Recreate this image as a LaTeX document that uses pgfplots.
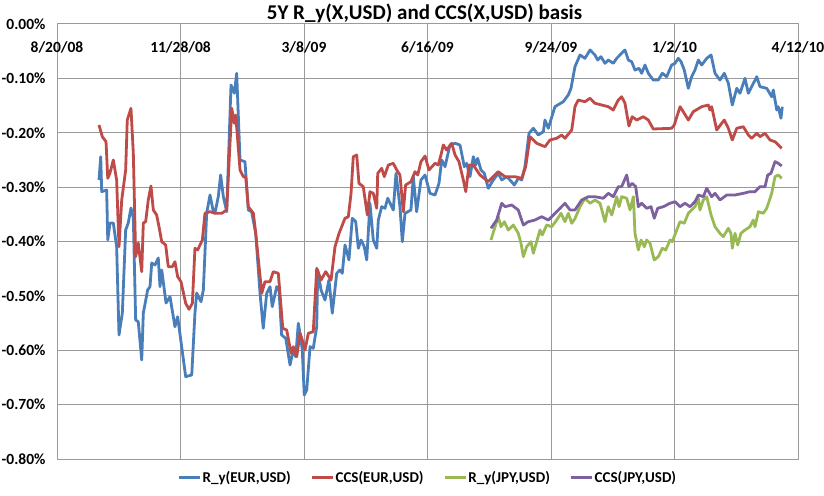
\documentclass[border=0pt]{standalone}
\usepackage{pgfplots}
\pgfplotsset{compat=1.18}
\usepackage{fontspec}
\setmainfont{Carlito}
\definecolor{cblue}{HTML}{4A7EBB}
\definecolor{cred}{HTML}{BE4B48}
\definecolor{cgreen}{HTML}{98B954}
\definecolor{cpurple}{HTML}{7D60A0}
\definecolor{cgrid}{HTML}{9A9A9A}
\begin{document}
\begin{tikzpicture}[x=1pt,y=1pt]
\useasboundingbox (-57,-36) rectangle (767,459);
\begin{axis}[
  at={(0,0)}, anchor=south west,
  scale only axis, width=741pt, height=435pt,
  xmin=0, xmax=600, ymin=-0.8, ymax=0,
  xtick={0,100,...,600},
  xticklabels={8/20/08,11/28/08,3/8/09,6/16/09,9/24/09,1/2/10,4/12/10},
  xticklabel pos=upper,
  xticklabel style={anchor=center, yshift=-23pt, font=\fontsize{15.5}{17}\selectfont\bfseries},
  ytick={-0.8,-0.7,-0.6,-0.5,-0.4,-0.3,-0.2,-0.1,0},
  yticklabels={-0.80\%,-0.70\%,-0.60\%,-0.50\%,-0.40\%,-0.30\%,-0.20\%,-0.10\%,0.00\%},
  yticklabel style={font=\fontsize{15.5}{17}\selectfont\bfseries, xshift=-8pt},
  major tick length=0pt,
  grid=major,
  grid style={cgrid, line width=1pt},
  axis line style={cgrid, line width=1pt},
  title={5Y R\_y(X,USD) and CCS(X,USD) basis},
  title style={font=\fontsize{21}{23}\selectfont\bfseries, at={(0.5,1)}, anchor=center, yshift=5pt, xshift=-3pt},
  legend columns=4,
  legend style={draw=none, fill=none, at={(0.5,-0.042)}, anchor=center,
    font=\fontsize{15}{17}\selectfont\bfseries,
    nodes={inner sep=1.5pt},
    /tikz/every even column/.append style={column sep=18pt}},
  legend image code/.code={\draw[#1, line width=2.8pt] (0pt,0pt) -- (21pt,0pt);},
  every axis plot/.append style={line width=2.8pt, line join=round},
]
\addplot[cblue] coordinates {
(34.0,-0.2869)(35.4,-0.2440)(36.2,-0.3084)(40.2,-0.3053)(41.1,-0.3972)(42.9,-0.3660)(45.6,-0.3660)(48.3,-0.4096)(50.2,-0.5720)(52.9,-0.5315)(55.6,-0.3789)(57.7,-0.3660)(59.9,-0.3384)(61.8,-0.3568)(63.7,-0.5444)(65.8,-0.5475)(68.6,-0.6179)(69.9,-0.5315)(73.4,-0.4892)(75.3,-0.4831)(76.7,-0.4395)(79.4,-0.4432)(82.0,-0.4303)(83.4,-0.4831)(84.8,-0.4524)(88.3,-0.5131)(91.5,-0.5015)(95.5,-0.5567)(97.7,-0.5383)(104.2,-0.6486)(109.1,-0.6455)(111.7,-0.5315)(113.1,-0.4947)(116.6,-0.5107)(118.5,-0.4892)(121.2,-0.3476)(123.9,-0.3145)(126.6,-0.3452)(127.9,-0.3476)(130.6,-0.3176)(132.5,-0.2777)(134.7,-0.3176)(137.4,-0.3452)(140.9,-0.1122)(143.6,-0.1274)(145.5,-0.0907)(148.2,-0.2501)(152.2,-0.2532)(154.9,-0.3421)(157.6,-0.3452)(160.9,-0.3849)(164.4,-0.4953)(167.0,-0.5596)(169.8,-0.4953)(172.5,-0.4831)(174.3,-0.5199)(177.9,-0.4831)(179.8,-0.4892)(181.9,-0.5720)(185.2,-0.5780)(188.7,-0.6271)(191.3,-0.5995)(193.3,-0.6119)(195.4,-0.5504)(197.6,-0.5811)(198.6,-0.5995)(200.2,-0.6823)(202.2,-0.6731)(204.9,-0.5935)(207.5,-0.5964)(210.3,-0.5567)(211.1,-0.4524)(213.8,-0.4892)(217.0,-0.5076)(220.2,-0.4708)(222.9,-0.5320)(226.5,-0.4585)(229.1,-0.4524)(231.0,-0.4585)(233.2,-0.4064)(236.4,-0.4340)(239.1,-0.3573)(241.9,-0.3636)(244.0,-0.4125)(246.2,-0.3972)(248.8,-0.4096)(250.8,-0.4340)(253.4,-0.3297)(256.1,-0.3972)(258.9,-0.4125)(260.2,-0.3605)(262.9,-0.3360)(265.6,-0.3389)(267.8,-0.3205)(272.3,-0.3421)(274.5,-0.2746)(277.7,-0.3360)(279.6,-0.4004)(281.8,-0.3481)(286.6,-0.3421)(288.5,-0.2808)(291.2,-0.3452)(294.7,-0.2869)(298.0,-0.2777)(302.0,-0.3114)(306.1,-0.3145)(309.3,-0.2930)(311.5,-0.2501)(314.2,-0.2624)(318.2,-0.2225)(322.3,-0.2194)(326.3,-0.2225)(329.8,-0.2624)(331.7,-0.2562)(334.4,-0.2808)(337.1,-0.2440)(339.0,-0.2593)(340.6,-0.2470)(343.3,-0.2685)(346.0,-0.2746)(349.2,-0.3022)(353.3,-0.2869)(357.3,-0.2746)(360.1,-0.2869)(364.1,-0.2808)(366.8,-0.2869)(370.3,-0.2961)(373.5,-0.2838)(376.3,-0.2869)(378.9,-0.2624)(382.2,-0.2010)(385.7,-0.1918)(389.7,-0.2041)(393.8,-0.1981)(395.1,-0.1766)(397.8,-0.1918)(403.2,-0.1521)(409.9,-0.1429)(414.0,-0.1306)(416.2,-0.1183)(419.4,-0.0785)(423.5,-0.0570)(427.5,-0.0631)(431.6,-0.0478)(435.6,-0.0570)(437.8,-0.0662)(440.5,-0.0601)(443.7,-0.0723)(446.4,-0.0662)(450.4,-0.0723)(453.2,-0.0631)(457.2,-0.0539)(459.9,-0.0478)(462.6,-0.0662)(465.3,-0.0693)(468.0,-0.0846)(471.3,-0.0815)(473.4,-0.0907)(476.1,-0.0754)(478.8,-0.0907)(482.8,-0.1030)(486.9,-0.1030)(490.1,-0.0907)(493.7,-0.0969)(497.7,-0.0754)(500.4,-0.0723)(503.1,-0.0631)(505.3,-0.0693)(507.9,-0.0846)(511.2,-0.1183)(513.9,-0.0969)(516.6,-0.0846)(519.3,-0.0662)(522.0,-0.0754)(526.1,-0.0631)(529.6,-0.0570)(532.8,-0.0907)(536.8,-0.1030)(540.3,-0.0907)(543.6,-0.1091)(546.8,-0.1490)(550.4,-0.1183)(553.0,-0.1274)(557.1,-0.0999)(559.8,-0.1274)(562.5,-0.1153)(566.6,-0.0969)(569.2,-0.1153)(574.7,-0.1183)(578.7,-0.1337)(580.0,-0.1214)(582.8,-0.1582)(584.0,-0.1521)(586.2,-0.1734)(587.3,-0.1521)
};
\addlegendentry{R\_y(EUR,USD)}
\addplot[cred] coordinates {
(34.0,-0.1857)(36.7,-0.2073)(39.7,-0.2165)(41.1,-0.2838)(42.9,-0.2740)(45.6,-0.2501)(48.3,-0.2869)(50.2,-0.4096)(52.4,-0.3237)(55.6,-0.2685)(56.9,-0.1766)(59.9,-0.1550)(61.8,-0.2378)(63.7,-0.4280)(65.8,-0.4028)(68.6,-0.4555)(69.9,-0.3660)(71.8,-0.3636)(73.9,-0.3237)(76.1,-0.2979)(78.0,-0.3421)(80.7,-0.3513)(82.6,-0.3728)(84.8,-0.4004)(88.0,-0.4064)(90.1,-0.4463)(93.4,-0.4463)(95.5,-0.4372)(97.7,-0.4647)(100.4,-0.4739)(104.2,-0.5137)(106.9,-0.5247)(109.6,-0.5137)(111.7,-0.4125)(113.9,-0.4156)(117.7,-0.3972)(119.8,-0.3481)(123.9,-0.3452)(127.9,-0.3481)(133.4,-0.3481)(137.4,-0.3421)(141.5,-0.1550)(143.6,-0.1826)(144.7,-0.1674)(146.3,-0.2133)(148.2,-0.2685)(150.9,-0.2808)(152.8,-0.2808)(154.9,-0.3360)(159.0,-0.3481)(160.9,-0.3849)(165.8,-0.4953)(168.4,-0.4739)(172.5,-0.4739)(175.1,-0.4555)(179.2,-0.4585)(182.8,-0.5596)(186.0,-0.5628)(189.5,-0.6056)(191.3,-0.5935)(194.1,-0.6119)(196.8,-0.5688)(198.6,-0.5811)(200.8,-0.5995)(203.5,-0.5688)(207.5,-0.5659)(210.3,-0.4493)(213.8,-0.4708)(217.6,-0.4555)(221.9,-0.4708)(225.1,-0.4096)(228.4,-0.3849)(233.2,-0.3573)(235.9,-0.3544)(238.1,-0.3114)(239.9,-0.2440)(242.7,-0.2409)(244.5,-0.2930)(248.0,-0.2992)(251.3,-0.3513)(253.4,-0.3084)(256.1,-0.3114)(258.9,-0.3389)(259.7,-0.2746)(262.9,-0.2654)(265.0,-0.2808)(268.3,-0.2593)(272.3,-0.2562)(275.1,-0.2685)(277.7,-0.2777)(280.4,-0.3452)(282.3,-0.2961)(286.6,-0.2900)(289.9,-0.2716)(292.1,-0.2777)(294.7,-0.2532)(298.0,-0.2428)(301.2,-0.2685)(306.1,-0.2562)(308.7,-0.2593)(310.9,-0.2409)(312.8,-0.2225)(315.5,-0.2317)(319.6,-0.2194)(322.3,-0.2409)(325.5,-0.2532)(329.0,-0.2869)(331.0,-0.3084)(333.6,-0.2593)(337.1,-0.2593)(342.5,-0.2777)(349.2,-0.2900)(357.3,-0.2716)(362.8,-0.2808)(370.8,-0.2808)(376.3,-0.2838)(379.5,-0.2624)(383.0,-0.2073)(388.4,-0.2194)(395.1,-0.2256)(399.2,-0.2133)(404.6,-0.2102)(408.7,-0.2041)(411.3,-0.2102)(416.8,-0.1949)(419.4,-0.1521)(422.1,-0.1398)(427.5,-0.1429)(431.6,-0.1366)(435.6,-0.1458)(441.1,-0.1490)(446.4,-0.1521)(450.4,-0.1582)(454.5,-0.1398)(457.2,-0.1337)(459.9,-0.1458)(463.1,-0.1876)(465.8,-0.1705)(469.4,-0.1766)(474.7,-0.1705)(478.8,-0.1766)(482.8,-0.1931)(497.7,-0.1918)(499.8,-0.1857)(504.5,-0.1521)(507.1,-0.1613)(511.2,-0.1766)(515.2,-0.1613)(522.0,-0.1521)(527.4,-0.1490)(528.7,-0.1582)(530.1,-0.1521)(534.2,-0.1949)(538.2,-0.1826)(540.3,-0.1766)(543.6,-0.1918)(546.8,-0.2133)(550.4,-0.1918)(555.7,-0.1889)(559.8,-0.2041)(562.5,-0.2102)(566.6,-0.2010)(569.2,-0.2073)(573.3,-0.2010)(577.3,-0.2133)(581.4,-0.2165)(586.8,-0.2286)
};
\addlegendentry{CCS(EUR,USD)}
\addplot[cgreen] coordinates {
(351.4,-0.3972)(354.7,-0.3728)(357.3,-0.3544)(359.5,-0.3728)(362.2,-0.3636)(365.4,-0.3789)(369.5,-0.3697)(373.5,-0.3849)(375.7,-0.4033)(377.6,-0.4280)(380.3,-0.4096)(383.8,-0.4004)(385.7,-0.4217)(388.4,-0.4004)(391.1,-0.3789)(392.9,-0.3880)(396.5,-0.3697)(400.6,-0.3728)(404.6,-0.3605)(408.1,-0.3481)(411.3,-0.3636)(414.0,-0.3481)(416.8,-0.3665)(419.4,-0.3580)(423.5,-0.3360)(427.5,-0.3205)(431.6,-0.3297)(435.6,-0.3237)(439.7,-0.3297)(443.7,-0.3636)(446.4,-0.3360)(449.2,-0.3513)(453.2,-0.3176)(455.1,-0.3360)(457.2,-0.3176)(461.3,-0.3205)(464.0,-0.3421)(466.7,-0.3176)(468.0,-0.3849)(470.7,-0.4156)(472.9,-0.3972)(475.6,-0.4096)(477.5,-0.3972)(480.2,-0.4033)(483.6,-0.4340)(486.9,-0.4280)(490.1,-0.4125)(492.9,-0.4156)(496.4,-0.3972)(498.2,-0.4004)(501.8,-0.3789)(504.5,-0.3636)(507.9,-0.3665)(511.2,-0.3481)(513.9,-0.3421)(516.6,-0.3360)(519.3,-0.3205)(520.6,-0.3421)(523.3,-0.3237)(526.1,-0.3176)(529.6,-0.3513)(532.8,-0.3728)(536.8,-0.3849)(539.5,-0.3912)(543.6,-0.3757)(545.7,-0.3849)(546.8,-0.4125)(549.0,-0.3849)(551.2,-0.4064)(553.8,-0.3849)(557.1,-0.3789)(561.1,-0.3728)(563.8,-0.3605)(565.2,-0.3728)(567.9,-0.3452)(571.9,-0.3481)(574.7,-0.3389)(578.7,-0.3114)(581.4,-0.2808)(584.0,-0.2777)(586.8,-0.2838)
};
\addlegendentry{R\_y(JPY,USD)}
\addplot[cpurple] coordinates {
(351.4,-0.3757)(356.0,-0.3605)(360.1,-0.3297)(362.8,-0.3360)(368.2,-0.3329)(373.5,-0.3421)(377.6,-0.3697)(381.6,-0.3636)(387.0,-0.3605)(392.5,-0.3544)(397.8,-0.3605)(401.9,-0.3513)(405.9,-0.3421)(411.3,-0.3297)(415.4,-0.3421)(419.4,-0.3421)(424.8,-0.3237)(430.2,-0.3176)(435.6,-0.3176)(442.3,-0.3205)(446.4,-0.3114)(450.4,-0.3176)(454.5,-0.2992)(457.2,-0.2992)(461.3,-0.2777)(463.1,-0.2992)(465.8,-0.2930)(468.6,-0.2992)(470.7,-0.3360)(473.4,-0.3297)(477.5,-0.3389)(481.0,-0.3360)(483.6,-0.3573)(486.4,-0.3389)(490.9,-0.3360)(496.4,-0.3297)(500.4,-0.3268)(504.5,-0.3360)(508.5,-0.3297)(512.6,-0.3360)(516.6,-0.3268)(519.3,-0.3145)(523.3,-0.3176)(526.1,-0.3022)(530.1,-0.3176)(532.8,-0.3114)(536.8,-0.3237)(542.3,-0.3145)(549.0,-0.3145)(555.7,-0.3114)(561.1,-0.3084)(565.2,-0.3084)(569.2,-0.2992)(573.3,-0.2992)(575.5,-0.2777)(578.1,-0.2746)(581.4,-0.2532)(584.0,-0.2562)(586.8,-0.2611)
};
\addlegendentry{CCS(JPY,USD)}
\end{axis}
\end{tikzpicture}
\end{document}
